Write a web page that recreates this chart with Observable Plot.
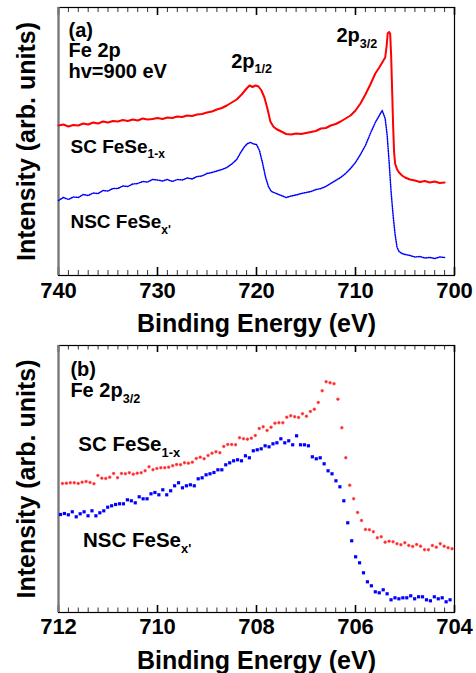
<!DOCTYPE html>
<html><head><meta charset="utf-8">
<script src="https://cdn.jsdelivr.net/npm/d3@7"></script>
<script src="https://cdn.jsdelivr.net/npm/@observablehq/plot@0.6"></script>
<style>
body{margin:0;background:#fff;}
#chart{width:476px;}
svg{display:block;}
</style></head><body><div id="chart"></div>
<script>
// ---------- Panel (a): Fe 2p, hv = 900 eV ----------
const energyA_red = [740,739.5,739,738.5,738,737.5,737,736.5,736,735.5,735,734.5,734,733.5,733,732.5,732,731.5,731,730.5,730,729.5,729,728.5,728,727.5,727,726.5,726,725.5,725,724.5,724,723.5,723,722.5,722,721.5,721,720.7,720.4,720.1,719.8,719.5,719.2,718.9,718.6,718.3,718,717.5,717,716.5,716,715.5,715,714.5,714,713.5,713,712.5,712,711.5,711,710.5,710,709.5,709,708.5,708,707.6,707.3,707,706.85,706.75,706.6,706.5,706.4,706.3,706.2,706.1,706,705.8,705.6,705.3,705,704.5,704,703.5,703,702.5,702,701.5,701];
const intensityA_red = [150,151,149,150.5,150,152,151,153,152,154,153,154.5,154,155.5,154.5,156,155,157,156,156.5,157.5,156.5,158,157.5,159,158.5,160,159.5,161,161.5,163,164,166,167.5,170,173,176,181,187,190,188.5,190,189,185,178,167,154,149,146.5,144,141.5,141,142,141.5,142.5,143.5,144.5,147,147.5,150,151.5,154,157,160,165,172,181,191,202,208,213,218,230,242,243.5,242,220,185,150,123,112,106,103,100,98,96,95,93.5,94.5,93,94,92.5,93];
const energyA_blue = [740,739.5,739,738.5,738,737.5,737,736.5,736,735.5,735,734.5,734,733.5,733,732.5,732,731.5,731,730.5,730,729.5,729,728.5,728,727.5,727,726.5,726,725.5,725,724.5,724,723.5,723,722.5,722,721.6,721.2,720.9,720.6,720.3,720,719.7,719.4,719.1,718.8,718.5,718,717.5,717,716.5,716,715.5,715,714.5,714,713.5,713,712.5,712,711.5,711,710.5,710,709.5,709,708.5,708,707.6,707.3,707,706.8,706.6,706.4,706.2,706,705.8,705.6,705.3,705,704.5,704,703.5,703,702.5,702,701.5,701];
const intensityA_blue = [75,78,76,78.5,78,81,80,82.5,82,85,84.5,87,87,89.5,89,91.5,92,94,93.5,96,95.5,94.5,96,94,96,95.5,97.5,96.5,99,99.5,102,103,104.5,106,108,111.5,116,123,129,132,133,131.5,131,125,113,99,89,84,82,80,78,79.5,80.5,82,83,84,86,87,89,92,95,98,102,107,113,121,130,142,153,160,165,157,140,113,83,60,41,28,24,22,21,20,18.5,19,17.5,18,17,18.5,18];

// ---------- Panel (b): Fe 2p3/2 (sampled every 0.0795 eV) ----------
const energyB_redStart = 711.92, energyB_blueStart = 711.96, energyB_step = 0.0795;
const intensityB_red = [129,129.3,129.7,129.7,129,130.3,131,130,128.7,137,134.3,134,135.3,139,134.7,139,138.7,139.7,138.3,139.3,139.7,141.7,145.7,142.7,144,144.7,144.7,145.3,146.7,148,147.7,149.7,149.3,150.3,154,155.3,153.7,157,159.3,160.7,159.7,166,168,168,167.7,174.7,173.7,173.3,174.3,177,184,185.7,182,185.3,189.3,189.7,189.7,195.3,196.7,195.7,195,198.7,196.3,201,203.3,210,221.7,230.7,229.7,228.7,213.3,184.7,154.7,127.3,113.7,100,92,83,82.7,80.7,74.7,75.7,70.3,71.3,70.7,68.7,67.7,69.7,67,66,68,66.3,62.7,62.7,67,65.3,68.7,66.3,64.7,63.7];
const intensityB_blue = [98,99,97.7,100.7,95.7,98.7,100.7,96.7,101.7,96.7,99.7,101.7,105.3,106.7,108,108.7,108.7,112.7,111.7,109.7,115.7,113.7,113.7,118.7,120,117.7,122.7,117.7,121.7,126.7,129.7,124.7,126.7,127.7,126.7,133.7,134.7,137.7,138.7,140,142.7,142.7,147.7,149.7,151.7,152.7,151.7,156.7,154.7,161.7,162.7,163.7,166.7,165.7,168.7,169.7,173.7,169.7,171.7,167.7,176.7,167.7,167.7,166.7,155.7,153.7,154.7,148.7,141.7,138.7,131.7,125.7,111.7,89.7,71.7,55.7,49.7,39.7,30.7,26.7,20.7,19.7,22.7,18.7,12.7,14.7,13.7,14.7,14.7,16.7,13.7,15.7,15.7,12.7,11.7,15.7,13.7,14.7,10.7,12.7];

// ---------- Axis ticks and labels ----------
const majorTicksA = [740,730,720,710,700];
const minorTicksA = d3.range(700, 741, 1);
const majorTicksB = [712,710,708,706,704];
const minorTicksB = d3.range(0, 41).map(i => +(704 + i * 0.2).toFixed(1));
const xLabel = "Binding Energy (eV)";
const yLabel = "Intensity (arb. units)";

const redA = energyA_red.map((e, i) => ({e, v: intensityA_red[i]}));
const blueA = energyA_blue.map((e, i) => ({e, v: intensityA_blue[i]}));
const redB = intensityB_red.map((v, i) => ({e: energyB_redStart - i * energyB_step, v}));
const blueB = intensityB_blue.map((v, i) => ({e: energyB_blueStart - i * energyB_step, v}));

const FONT = "'Liberation Sans', Arial, Helvetica, sans-serif";
const RED = "#ff0000", BLUE = "#0000ff";

function framing(major, minor, domainLeft, fh, minLen, majLen, padding) {
  return [
    Plot.tickX(minor, {x: d => d, insetTop: fh - minLen, stroke: "#333", strokeWidth: 1}),
    Plot.tickX(minor, {x: d => d, insetBottom: fh - minLen, stroke: "#333", strokeWidth: 1}),
    Plot.tickX(major, {x: d => d, insetTop: fh - majLen, stroke: "#000", strokeWidth: 1.6}),
    Plot.tickX(major, {x: d => d, insetBottom: fh - majLen, stroke: "#000", strokeWidth: 1.6}),
    Plot.frame({stroke: "#000", strokeWidth: 1.2}),
    Plot.ruleX([domainLeft], {stroke: "#777", strokeWidth: 2.2}),
    Plot.axisX(major, {tickSize: 0, tickPadding: padding, fontSize: 22, fontWeight: "bold", label: null, tickFormat: d => String(d)}),
    Plot.text([xLabel], {text: d => d, frameAnchor: "bottom", lineAnchor: "top", dy: 39, fontSize: 25, fontWeight: "bold"}),
    Plot.text([yLabel], {text: d => d, frameAnchor: "left", rotate: -90, textAnchor: "middle", lineAnchor: "middle", dx: -32, fontSize: 25, fontWeight: "bold"})
  ];
}

const annA = [
  {x: 738.99, y: 245, t: "(a)", s: 20},
  {x: 738.99, y: 224.7, t: "Fe 2p", s: 20},
  {x: 738.99, y: 204.3, t: "hv=900 eV", s: 20},
  {x: 722.56, y: 214.3, t: "2p|1/2", s: 20},
  {x: 711.92, y: 240, t: "2p|3/2", s: 20},
  {x: 738.79, y: 128.7, t: "SC FeSe|1-x", s: 19},
  {x: 738.79, y: 53.3, t: "NSC FeSe|x'", s: 19}
];
const annB = [
  {x: 711.76, y: 242.5, t: "(b)", s: 20},
  {x: 711.76, y: 221.5, t: "Fe 2p|3/2", s: 20},
  {x: 711.6, y: 167.7, t: "SC FeSe|1-x", s: 20.5},
  {x: 711.505, y: 72, t: "NSC FeSe|x'", s: 20.5}
];

function annotMarks(list) {
  return d3.groups(list, d => d.s).map(([s, arr]) =>
    Plot.text(arr, {x: "x", y: "y", text: "t", textAnchor: "start", lineAnchor: "middle", fontSize: s, fontWeight: "bold", fill: "#000"}));
}

const style = {fontFamily: FONT, fontWeight: "bold", background: "#fff", color: "#000", overflow: "visible"};

const plotA = Plot.plot({
  width: 476, height: 338,
  marginTop: 7, marginBottom: 63, marginLeft: 58, marginRight: 22,
  x: {domain: [740, 700]},
  y: {domain: [0, 268], axis: null},
  style,
  marks: [
    ...framing(majorTicksA, minorTicksA, 740, 268, 5, 8, 7),
    Plot.line(redA, {x: "e", y: "v", stroke: RED, strokeWidth: 2}),
    Plot.line(blueA, {x: "e", y: "v", stroke: BLUE, strokeWidth: 1.5, strokeDasharray: "1.1,1.3"}),
    ...annotMarks(annA)
  ]
});

const plotB = Plot.plot({
  width: 476, height: 335,
  marginTop: 7, marginBottom: 61, marginLeft: 58, marginRight: 22,
  x: {domain: [712, 704]},
  y: {domain: [0, 267], axis: null},
  style,
  marks: [
    ...framing(majorTicksB, minorTicksB, 712, 267, 4.5, 7, 6),
    Plot.dot(redB, {x: "e", y: "v", r: 1.45, fill: "#ff2424", stroke: "#ff7070", strokeWidth: 0.5}),
    Plot.dot(blueB, {x: "e", y: "v", r: 1.8, symbol: "square", fill: BLUE}),
    ...annotMarks(annB)
  ]
});

const host = document.getElementById("chart");
host.appendChild(plotA);
host.appendChild(plotB);

// Subscripts: the part after "|" becomes a lowered, smaller tspan
const NS = "http://www.w3.org/2000/svg";
for (const svg of [plotA, plotB]) {
  svg.querySelectorAll("text").forEach(t => {
    const s = t.textContent;
    if (!s.includes("|")) return;
    const [main, sub] = s.split("|");
    const fs = parseFloat(getComputedStyle(t).fontSize);
    t.textContent = "";
    const a = document.createElementNS(NS, "tspan");
    a.textContent = main;
    const b = document.createElementNS(NS, "tspan");
    b.textContent = sub;
    b.setAttribute("font-size", (fs * 0.63).toFixed(1));
    b.setAttribute("dy", (fs * 0.28).toFixed(1));
    t.appendChild(a);
    t.appendChild(b);
  });
}
</script></body></html>
